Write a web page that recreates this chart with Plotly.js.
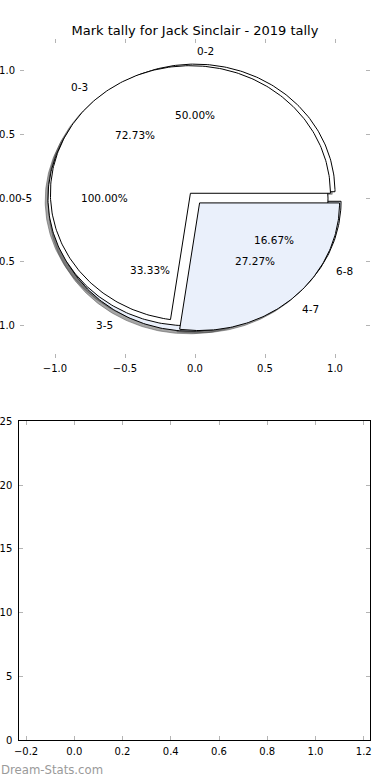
<!DOCTYPE html>
<html><head><meta charset="utf-8">
<script src="https://cdn.plot.ly/plotly-3.0.1.min.js"></script>
<style>html,body{margin:0;padding:0;background:#fff;} #chart{width:390px;height:780px;}</style>
</head><body><div id="chart"></div>
<script>
// ---- data: three tallies drawn on top of each other (drawing order A, C, B) ----
const pieALabels = ['0-2', '3-5', '6-8'];
const pieAValues = [3, 2, 1];          // 50.00%, 33.33%, 16.67%
const pieCLabels = ['0-5'];
const pieCValues = [1];                // 100.00%
const pieBLabels = ['0-3', '4-7'];
const pieBValues = [8, 3];             // 72.73%, 27.27%

const pieXTicks = [-1.0, -0.5, 0.0, 0.5, 1.0];
const pieYTicks = [-1.0, -0.5, 0.0, 0.5, 1.0];
const barXTicks = [-0.2, 0.0, 0.2, 0.4, 0.6, 0.8, 1.0, 1.2];
const barYTicks = [0, 5, 10, 15, 20, 25];

const titleText = 'Mark tally for Jack Sinclair - 2019 tally';
const watermark = 'Dream-Stats.com';

// ---- style ----
const EXPLODE = 0.05, LABEL_DIST = 1.1, PCT_DIST = 0.6, SHADOW = -0.02;
const WHITE = '#ffffff', BLUE = '#eaf0fb';
const pieAColors = [WHITE, BLUE, BLUE];
const pieCColors = [WHITE];
const pieBColors = [WHITE, BLUE];
const FONT = 'DejaVu Sans, Liberation Sans, sans-serif';
const TXT = 10.5, TICK = 10;

function wedge(cx, cy, a1, a2, full) {
  const xs = [], ys = [];
  if (!full) { xs.push(cx); ys.push(cy); }
  const n = Math.max(4, Math.ceil(a2 - a1));
  for (let i = 0; i <= n; i++) {
    const a = (a1 + (a2 - a1) * i / n) * Math.PI / 180;
    xs.push(cx + Math.cos(a)); ys.push(cy + Math.sin(a));
  }
  if (!full) { xs.push(cx); ys.push(cy); }
  return {xs, ys};
}

function buildPie(labels, values, colors) {
  const total = values.reduce((a, b) => a + b, 0);
  let start = 0;
  const out = [];
  values.forEach((v, i) => {
    const span = 360 * v / total;
    const mid = (start + span / 2) * Math.PI / 180;
    const cx = EXPLODE * Math.cos(mid), cy = EXPLODE * Math.sin(mid);
    const full = Math.abs(span - 360) < 1e-9;
    const w = wedge(cx, cy, start, start + span, full);
    const lx = cx + LABEL_DIST * Math.cos(mid), ly = cy + LABEL_DIST * Math.sin(mid);
    const px = cx + PCT_DIST * Math.cos(mid), py = cy + PCT_DIST * Math.sin(mid);
    out.push({w, color: colors[i], label: labels[i], pct: (100 * v / total).toFixed(2) + '%', lx, ly, px, py});
    start += span;
  });
  return out;
}

const pies = [buildPie(pieALabels, pieAValues, pieAColors),
              buildPie(pieCLabels, pieCValues, pieCColors),
              buildPie(pieBLabels, pieBValues, pieBColors)];

const traces = [];
// shadows under everything
pies.forEach(p => p.forEach(s => {
  traces.push({type: 'scatter', mode: 'lines', x: s.w.xs.map(v => v + SHADOW), y: s.w.ys.map(v => v + SHADOW),
    fill: 'toself', fillcolor: 'rgba(77,77,77,0.5)', line: {color: 'rgba(77,77,77,0.5)', width: 1},
    hoverinfo: 'skip', showlegend: false, xaxis: 'x', yaxis: 'y'});
}));
// wedges
pies.forEach(p => p.forEach(s => {
  traces.push({type: 'scatter', mode: 'lines', x: s.w.xs, y: s.w.ys,
    fill: 'toself', fillcolor: s.color, line: {color: '#000000', width: 1},
    hoverinfo: 'skip', showlegend: false, xaxis: 'x', yaxis: 'y', name: s.label});
}));
// empty lower axes
traces.push({type: 'scatter', mode: 'markers', x: [], y: [], xaxis: 'x2', yaxis: 'y2', showlegend: false});

const annotations = [];
pies.forEach(p => p.forEach(s => {
  annotations.push({xref: 'x', yref: 'y', x: s.lx, y: s.ly, text: s.label, showarrow: false,
    xanchor: s.lx > 0 ? 'left' : 'right', yanchor: 'middle', font: {size: TXT, color: '#000', family: FONT}});
  annotations.push({xref: 'x', yref: 'y', x: s.px, y: s.py, text: s.pct, showarrow: false,
    xanchor: 'center', yanchor: 'middle', font: {size: TXT, color: '#000', family: FONT}});
}));
annotations.push({xref: 'paper', yref: 'paper', x: 0, y: 1 - 769 / 780, xanchor: 'left', yanchor: 'middle',
  xshift: -1, text: watermark, showarrow: false,
  font: {size: 13, color: '#9a9a9a', family: 'DejaVu Sans Condensed, Liberation Sans Narrow, DejaVu Sans, sans-serif'}});

const W = 390, H = 780;
const tickCommon = {ticks: 'inside', ticklen: 4, tickwidth: 1, tickcolor: '#b4b4b4', showgrid: false,
  zeroline: false, fixedrange: true, automargin: false, tickfont: {size: TICK, color: '#000', family: FONT}};

const layout = {
  width: W, height: H, margin: {l: 0, r: 0, t: 0, b: 0},
  paper_bgcolor: '#ffffff', plot_bgcolor: 'rgba(0,0,0,0)',
  font: {family: FONT, size: TICK, color: '#000'},
  showlegend: false,
  title: {text: titleText, x: 0.5, xanchor: 'center', xref: 'paper', y: 1 - 30 / H, yanchor: 'middle', yref: 'paper',
    font: {size: 13, color: '#000', family: FONT}},
  xaxis: Object.assign({}, tickCommon, {domain: [20 / W, 370 / W], range: [-1.25, 1.25], anchor: 'y',
    tickmode: 'array', tickvals: pieXTicks, tickformat: '.1f', showline: false, mirror: 'ticks', ticklabelstandoff: 3}),
  yaxis: Object.assign({}, tickCommon, {domain: [1 - 357.6 / H, 1 - 38.6 / H], range: [-1.25, 1.25], anchor: 'x',
    tickmode: 'array', tickvals: pieYTicks, tickformat: '.1f', showline: false, mirror: 'ticks', ticklabelstandoff: 4}),
  xaxis2: Object.assign({}, tickCommon, {domain: [19.3 / W, 370 / W], range: [-0.228, 1.226], anchor: 'y2',
    tickmode: 'array', tickvals: barXTicks, tickformat: '.1f', showline: true, linecolor: '#000', linewidth: 1, mirror: 'ticks', ticklabelstandoff: 2}),
  yaxis2: Object.assign({}, tickCommon, {domain: [1 - 740 / H, 1 - 421.3 / H], range: [0, 25], anchor: 'x2',
    tickmode: 'array', tickvals: barYTicks, tickformat: 'd', showline: true, linecolor: '#000', linewidth: 1, mirror: 'ticks', ticklabelstandoff: 4}),
  annotations: annotations
};

Plotly.newPlot('chart', traces, layout, {staticPlot: true, displayModeBar: false});
</script></body></html>
